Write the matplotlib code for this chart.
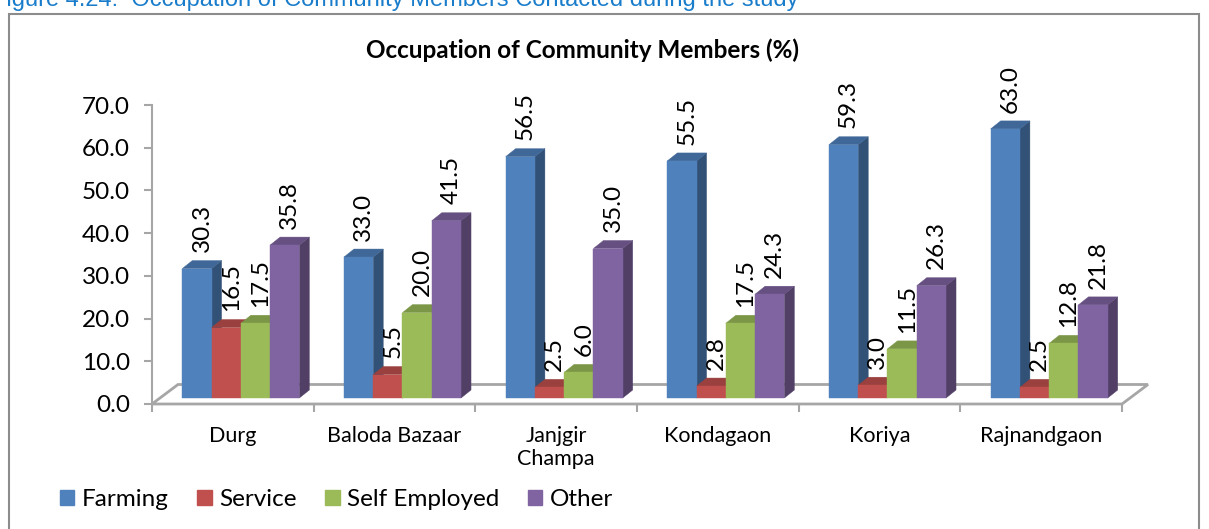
import numpy as np
import matplotlib
matplotlib.use("Agg")
import matplotlib.pyplot as plt
from matplotlib.patches import Polygon, Rectangle, Patch

# data
districts = ["Durg", "Baloda Bazaar", "Janjgir\nChampa", "Kondagaon", "Koriya", "Rajnandgaon"]
series = ["Farming", "Service", "Self Employed", "Other"]
farming = [30.3, 33.0, 56.5, 55.5, 59.3, 63.0]
service = [16.5, 5.5, 2.5, 2.8, 3.0, 2.5]
self_employed = [17.5, 20.0, 6.0, 17.5, 11.5, 12.8]
other = [35.8, 41.5, 35.0, 24.3, 26.3, 21.8]
yticks = [0, 10, 20, 30, 40, 50, 60, 70]

colors = ["#4F81BD", "#C0504D", "#9BBB59", "#8064A2"]
values = [farming, service, self_employed, other]

plt.rcParams['font.family'] = ['Lato', 'DejaVu Sans']

W, H = 1209, 529
fig = plt.figure(figsize=(W / 100, H / 100), dpi=100)
fig.patch.set_facecolor("white")

# plot area in pixels: x 152..1122, y 404 (0) .. 105 (70)
ax = fig.add_axes([152 / W, (H - 404) / H, 970 / W, 299 / H])
ax.set_xlim(0, 6)
ax.set_ylim(0, 70)
ax.patch.set_alpha(0)

px_x = 970 / 6.0
px_y = 299 / 70.0

# 3d-ish offsets (pixels converted to data units)
floor_dx, floor_dy = 26 / px_x, 19.5 / px_y
front_dx, front_dy = 8 / px_x, 6 / px_y
depth_dx, depth_dy = 10 / px_x, 8 / px_y
bar_w = 0.181


def shade(c, f):
    rgb = np.array(matplotlib.colors.to_rgb(c))
    return tuple(rgb * f)


grey = "#A6A6A6"
floor = Polygon([(0, 0), (6, 0), (6 + floor_dx, floor_dy), (floor_dx, floor_dy)],
                closed=True, facecolor="white", edgecolor=grey, lw=2, zorder=1, clip_on=False)
ax.add_patch(floor)

for g in range(len(districts)):
    x0 = g + 0.5 - 2 * bar_w + front_dx
    for s in range(len(series)):
        v = values[s][g]
        c = colors[s]
        xl = x0 + s * bar_w
        xr = xl + bar_w
        yb = front_dy
        yt = v + front_dy
        z = 3 + s * 0.01
        side = Polygon([(xr, yb), (xr + depth_dx, yb + depth_dy), (xr + depth_dx, yt + depth_dy), (xr, yt)],
                       closed=True, facecolor=shade(c, 0.63), edgecolor=shade(c, 0.63), lw=0.3,
                       zorder=z, clip_on=False)
        top = Polygon([(xl, yt), (xr, yt), (xr + depth_dx, yt + depth_dy), (xl + depth_dx, yt + depth_dy)],
                      closed=True, facecolor=shade(c, 0.8), edgecolor=shade(c, 0.8), lw=0.3,
                      zorder=z, clip_on=False)
        front = Rectangle((xl, yb), bar_w, v, facecolor=c, edgecolor=c, lw=0.3, zorder=z, clip_on=False)
        ax.add_patch(side)
        ax.add_patch(top)
        ax.add_patch(front)
        ax.annotate("%.1f" % v, (xl + bar_w / 2 + depth_dx / 2, yt + depth_dy), xytext=(0, 6),
                    textcoords="offset points", rotation=90, ha="center", va="bottom",
                    fontsize=17.5, color="black", zorder=10, annotation_clip=False)

for sp in ["top", "right", "bottom"]:
    ax.spines[sp].set_visible(False)
ax.spines["left"].set_color(grey)
ax.spines["left"].set_linewidth(1.5)

ax.set_yticks(yticks)
ax.set_yticklabels(["%.1f" % t for t in yticks], fontsize=17.5)
ax.tick_params(axis="y", length=5.8, width=1.5, color=grey, pad=10)

ax.set_xticks(range(7))
ax.set_xticklabels([])
ax.tick_params(axis="x", which="major", length=5.8, width=1.5, color=grey)
ax.set_xticks(np.arange(6) + 0.5, minor=True)
ax.set_xticklabels(districts, minor=True, fontsize=15.5, linespacing=1.2)
ax.tick_params(axis="x", which="minor", length=0, pad=16)

fig.text(583 / W, 1 - 50 / H, "Occupation of Community Members (%)", ha="center", va="center",
         fontsize=17.5, fontweight="bold")

# caption partly cut off at the top, as in the source page
fig.text(-8 / W, 1 - 6 / H, "Figure 4.24:  Occupation of Community Members Contacted during the study",
         ha="left", va="baseline", fontsize=17, color="#1A7DCB", family="Liberation Sans")

# outer frame
fig.patches.append(Rectangle((9 / W, -0.05), (1199 - 9) / W, (H - 14) / H + 0.05,
                             transform=fig.transFigure, fill=False, edgecolor="#8C8C8C", lw=1.5))

handles = [Patch(facecolor=c, edgecolor=c) for c in colors]
fig.legend(handles, series, loc="center left", bbox_to_anchor=(60 / W, 1 - 500 / H), ncol=4,
           frameon=False, fontsize=17.5, handlelength=0.58, handleheight=0.58, handletextpad=0.3,
           columnspacing=1.2, borderpad=0, borderaxespad=0)

fig.savefig("out.png", dpi=100)
